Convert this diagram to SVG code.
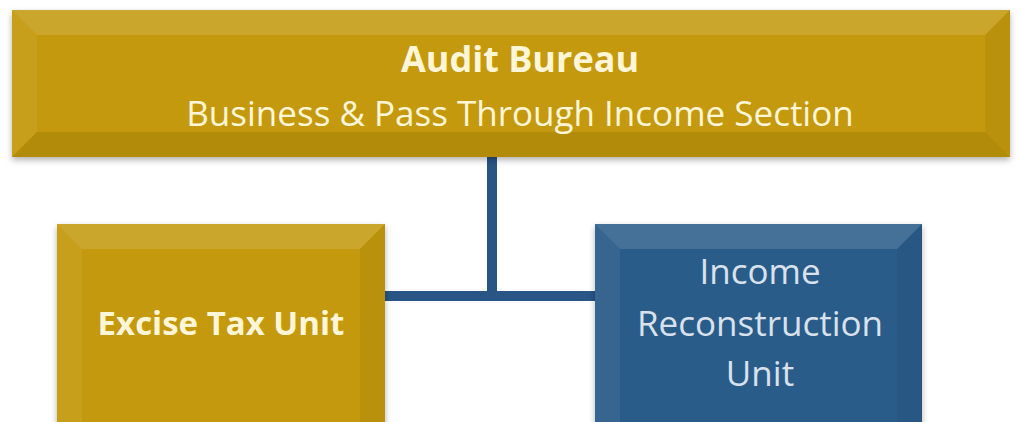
<svg xmlns="http://www.w3.org/2000/svg" width="1019" height="422" viewBox="0 0 1019 422">
<defs>
<style>
.gold{fill:#C4990C}
.blue{fill:#2C5B8A}
.lt{fill:#fff;opacity:0.13}
.lt2{fill:#fff;opacity:0.06}
.dk{fill:#000;opacity:0.05}
.dk2{fill:#000;opacity:0.09}
.t{font-family:"Open Sans","Liberation Sans",sans-serif;text-anchor:middle}
.gt{fill:#FFF6D8}
.bt{fill:#D9E2EC}
</style>
<filter id="sh" x="-5%" y="-5%" width="110%" height="120%">
<feDropShadow dx="0" dy="3" stdDeviation="3" flood-color="#000" flood-opacity="0.3"/>
</filter>
</defs>
<g id="connectors" fill="none" stroke="#285583" stroke-width="10">
<line x1="492" y1="155" x2="492" y2="296"/>
<line x1="384" y1="296" x2="597" y2="296"/>
</g>
<g id="audit-bureau">
<rect x="12" y="10" width="998" height="147" class="gold" filter="url(#sh)"/>
<polygon points="12,10 1010,10 985,35 37,35" class="lt"/>
<polygon points="12,10 37,35 37,132 12,157" class="lt2"/>
<polygon points="1010,10 1010,157 985,132 985,35" class="dk"/>
<polygon points="12,157 37,132 985,132 1010,157" class="dk2"/>
<text x="520" y="72" class="t gt" font-size="36" font-weight="bold">Audit Bureau</text>
<text x="520" y="126" class="t gt" font-size="35">Business &amp; Pass Through Income Section</text>
</g>
<g id="excise-tax-unit">
<rect x="57" y="224" width="328" height="210" class="gold" filter="url(#sh)"/>
<polygon points="57,224 385,224 360,249 82,249" class="lt"/>
<polygon points="57,224 82,249 82,422 57,422" class="lt2"/>
<polygon points="385,224 385,422 360,422 360,249" class="dk"/>
<text x="221" y="335" class="t gt" font-size="33" font-weight="bold">Excise Tax Unit</text>
</g>
<g id="income-reconstruction-unit">
<rect x="595" y="224" width="327" height="210" class="blue" filter="url(#sh)"/>
<polygon points="595,224 922,224 897,249 620,249" class="lt"/>
<polygon points="595,224 620,249 620,422 595,422" class="lt2"/>
<polygon points="922,224 922,422 897,422 897,249" class="dk"/>
<text x="760" y="284" class="t bt" font-size="35">Income</text>
<text x="760" y="336" class="t bt" font-size="35">Reconstruction</text>
<text x="760" y="386" class="t bt" font-size="35">Unit</text>
</g>
</svg>
